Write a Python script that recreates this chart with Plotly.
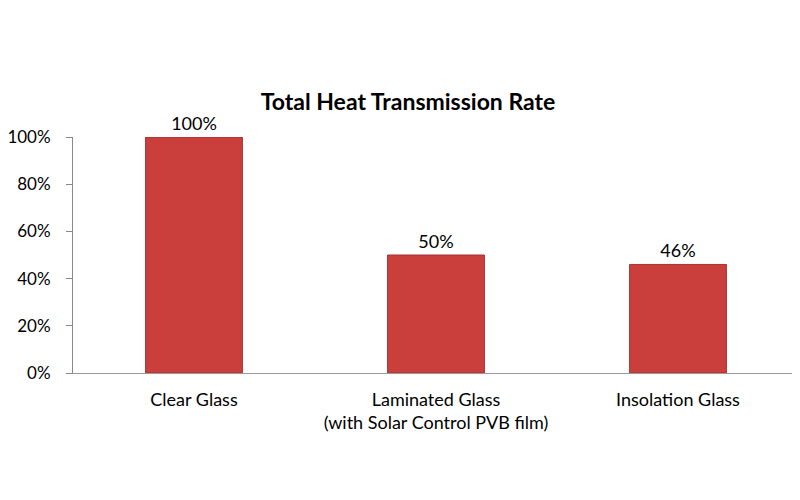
import plotly.graph_objects as go

categories = ["Clear Glass", "Laminated Glass<br>(with Solar Control PVB film)", "Insolation Glass"]
values = [1.00, 0.50, 0.46]
labels = ["100%", "50%", "46%"]
y_ticks = [0, 0.2, 0.4, 0.6, 0.8, 1.0]

font_family = "Lato, 'Open Sans', Arial, sans-serif"

# the page body adds an 8px offset, compensate in margins
off = 8
fig = go.Figure()
fig.add_trace(go.Bar(
    x=categories, y=values,
    text=labels, textposition="outside", cliponaxis=False,
    textfont=dict(size=18, color="#000000", family=font_family),
    marker=dict(color="#CA3E3B", line=dict(color="#A53331", width=1)),
    width=0.4,
))

fig.update_layout(
    width=800, height=500,
    paper_bgcolor="white", plot_bgcolor="white",
    margin=dict(l=73 - off, r=1 + off, t=137 - off, b=127 + off, autoexpand=False),
    showlegend=False,
    title=dict(text="<b>Total Heat Transmission Rate</b>", x=(408 - off) / 800, xanchor="center",
               xref="container", y=1 - (102 - off) / 500, yanchor="middle", yref="container",
               font=dict(size=23, color="#000000", family=font_family)),
    font=dict(family=font_family, size=16, color="#000000"),
)
fig.update_yaxes(range=[0, 1], tickvals=y_ticks, tickformat=".0%",
                 showgrid=False, zeroline=False, automargin=False,
                 showline=True, linecolor="#888888", linewidth=1,
                 ticks="outside", ticklen=6, tickcolor="#888888",
                 ticklabelstandoff=12,
                 tickfont=dict(size=17, color="#000000"))
fig.update_xaxes(showgrid=False, showline=True, linecolor="#999999", linewidth=1,
                 ticks="", ticklabelstandoff=10, automargin=False,
                 tickfont=dict(size=18, color="#000000"))

fig.write_html("out.html")
